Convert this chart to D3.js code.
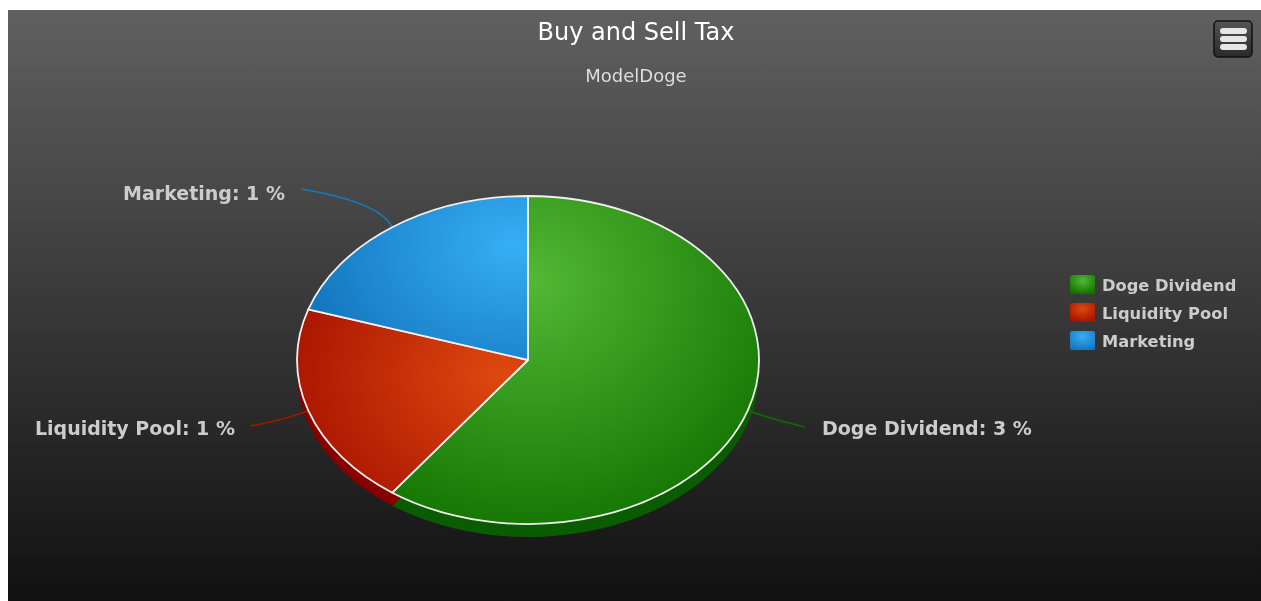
<!DOCTYPE html>
<html>
<head>
<meta charset="utf-8">
<script src="https://d3js.org/d3.v7.min.js"></script>
<style>
html, body { margin: 0; padding: 0; background: #fff; overflow: hidden; }
svg { display: block; }
text { font-family: "DejaVu Sans", sans-serif; filter: url(#soft); }
</style>
</head>
<body>
<script>
//Chart values
var categories = ["Doge Dividend", "Liquidity Pool", "Marketing"];
var taxValues = [3, 1, 1];

//Colours, same order as the categories
var lightColors = ["#52b835", "#de4810", "#36aef5"];
var darkColors = ["#127400", "#a81400", "#1478c0"];
var sideColors = ["#0b5c00", "#860000", "#0f5f99"];
var lineColors = ["#0f6a00", "#9a1a00", "#1a78b8"];
var gradientX = [0.38, 0.88, 0.93];
var gradientY = [0.26, 0.36, 0.3];
var gradientR = [0.8, 0.95, 0.95];

//Width and height
var w = 1261;
var h = 601;
var cx = 528;
var cy = 360;
var rx = 231;
var ry = 164;
var depth = 13;

var svg = d3.select("body")
            .append("svg")
            .attr("width", w)
            .attr("height", h);

var defs = svg.append("defs");

//The reference text is a little soft
defs.append("filter")
    .attr("id", "soft")
    .append("feGaussianBlur")
    .attr("stdDeviation", 0.35);

var bg = defs.append("linearGradient")
            .attr("id", "bg")
            .attr("x1", 0).attr("y1", 0)
            .attr("x2", 0).attr("y2", 1);
bg.append("stop").attr("offset", "0%").attr("stop-color", "#606060");
bg.append("stop").attr("offset", "100%").attr("stop-color", "#111111");

var btn = defs.append("linearGradient")
            .attr("id", "btn")
            .attr("x1", 0).attr("y1", 0)
            .attr("x2", 0).attr("y2", 1);
btn.append("stop").attr("offset", "0%").attr("stop-color", "#555");
btn.append("stop").attr("offset", "100%").attr("stop-color", "#2a2a2a");

categories.forEach(function(c, i) {
    var g = defs.append("radialGradient")
                .attr("id", "slice" + i)
                .attr("cx", gradientX[i])
                .attr("cy", gradientY[i])
                .attr("r", gradientR[i]);
    g.append("stop").attr("offset", "0%").attr("stop-color", lightColors[i]);
    g.append("stop").attr("offset", "100%").attr("stop-color", darkColors[i]);

    var s = defs.append("radialGradient")
                .attr("id", "swatch" + i)
                .attr("cx", 0.5)
                .attr("cy", 0.3)
                .attr("r", 0.7);
    s.append("stop").attr("offset", "0%").attr("stop-color", lightColors[i]);
    s.append("stop").attr("offset", "100%").attr("stop-color", darkColors[i]);
});

//Background panel
svg.append("rect")
    .attr("x", 8)
    .attr("y", 10)
    .attr("width", w - 8)
    .attr("height", h - 10)
    .attr("fill", "url(#bg)");

//Title and subtitle
svg.append("text")
    .attr("x", 636)
    .attr("y", 39.5)
    .attr("text-anchor", "middle")
    .attr("font-size", 24)
    .attr("fill", "#ffffff")
    .text("Buy and Sell Tax");

svg.append("text")
    .attr("x", 636)
    .attr("y", 82)
    .attr("text-anchor", "middle")
    .attr("font-size", 18)
    .attr("fill", "#dddddd")
    .text("ModelDoge");

//Pie
var pie = d3.pie().sort(null).value(function(d) { return d; });
var arcs = pie(taxValues);
var arc = d3.arc().innerRadius(0).outerRadius(rx);
var yScale = ry / rx;

//Side of the pie, the same slices moved down
svg.append("g")
    .attr("transform", "translate(" + cx + "," + (cy + depth) + ") scale(1," + yScale + ")")
    .selectAll("path")
    .data(arcs)
    .enter()
    .append("path")
    .attr("d", arc)
    .attr("fill", function(d, i) { return sideColors[i]; });

//Connector lines
var labelEnds = [[805, 427], [250, 426], [301, 189]];
var lineBends = [[778, 421], [280, 421], [380, 202]];

svg.append("g")
    .selectAll("path")
    .data(arcs)
    .enter()
    .append("path")
    .attr("d", function(d, i) {
        var mid = (d.startAngle + d.endAngle) / 2;
        var p = d3.path();
        p.moveTo(cx + rx * Math.sin(mid), cy - ry * Math.cos(mid));
        p.quadraticCurveTo(lineBends[i][0], lineBends[i][1], labelEnds[i][0], labelEnds[i][1]);
        return p.toString();
    })
    .attr("fill", "none")
    .attr("stroke", function(d, i) { return lineColors[i]; })
    .attr("stroke-width", 1.7);

//Top of the pie
svg.append("g")
    .attr("transform", "translate(" + cx + "," + cy + ") scale(1," + yScale + ")")
    .selectAll("path")
    .data(arcs)
    .enter()
    .append("path")
    .attr("d", arc)
    .attr("fill", function(d, i) { return "url(#slice" + i + ")"; })
    .attr("stroke", "#f0f0f0")
    .attr("stroke-width", 1.8)
    .attr("stroke-linejoin", "round")
    .attr("vector-effect", "non-scaling-stroke");

//Data labels
var labelX = [822, 235, 285];
var labelY = [435, 435, 200];
var labelAnchor = ["start", "end", "end"];

svg.append("g")
    .selectAll("text")
    .data(arcs)
    .enter()
    .append("text")
    .attr("x", function(d, i) { return labelX[i]; })
    .attr("y", function(d, i) { return labelY[i]; })
    .attr("text-anchor", function(d, i) { return labelAnchor[i]; })
    .attr("font-size", 19)
    .attr("font-weight", "bold")
    .attr("fill", "#cccccc")
    .text(function(d, i) { return categories[i] + ": " + d.value + " %"; });

//Legend
var legend = svg.append("g")
    .selectAll("g")
    .data(categories)
    .enter()
    .append("g")
    .attr("transform", function(d, i) { return "translate(1070," + (275 + i * 28) + ")"; });

legend.append("rect")
    .attr("width", 25)
    .attr("height", 19)
    .attr("rx", 2)
    .attr("fill", function(d, i) { return "url(#swatch" + i + ")"; });

legend.append("text")
    .attr("x", 32)
    .attr("y", 16)
    .attr("font-size", 16.3)
    .attr("font-weight", "bold")
    .attr("fill", "#cccccc")
    .text(function(d) { return d; });

//Menu button
var menu = svg.append("g").attr("transform", "translate(1214,21)");

menu.append("rect")
    .attr("width", 38)
    .attr("height", 36)
    .attr("rx", 4)
    .attr("fill", "url(#btn)")
    .attr("stroke", "#111")
    .attr("stroke-width", 1.5);

menu.selectAll("line")
    .data([10, 18, 26])
    .enter()
    .append("line")
    .attr("x1", 9)
    .attr("x2", 30)
    .attr("y1", function(d) { return d; })
    .attr("y2", function(d) { return d; })
    .attr("stroke", "#e6e6e6")
    .attr("stroke-width", 6)
    .attr("stroke-linecap", "round");
</script>
</body>
</html>
